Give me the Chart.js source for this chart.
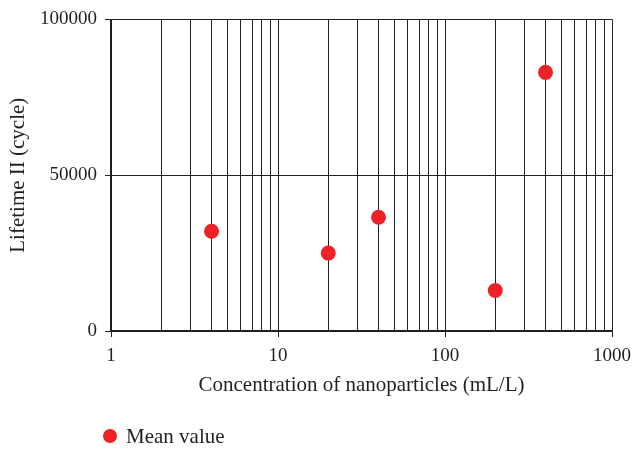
<!DOCTYPE html>
<html>
<head>
<meta charset="utf-8">
<script src="https://cdn.jsdelivr.net/npm/chart.js@4"></script>
<style>
  html, body { margin: 0; padding: 0; background: #fff; }
  #wrap { width: 634px; height: 449px; position: relative; }
</style>
</head>
<body>
<div id="wrap"><canvas id="myChart"></canvas></div>
<script>
// concentration (mL/L) and mean lifetime II (cycles)
const concentration = [4, 20, 40, 200, 400];
const meanLifetime = [32000, 25000, 36500, 13000, 83000];
const xDecades = [1, 10, 100, 1000];
const yTicks = [0, 50000, 100000];

const ink = "#231f20";
const red = "#ec2227";
const serif = "'Liberation Serif', 'DejaVu Serif', serif";

// every 1..9 step inside each decade gets a grid line
function logGridValues() {
  var vals = [];
  for (var d = 0; d < xDecades.length - 1; d++) {
    for (var k = 1; k < 10; k++) vals.push(xDecades[d] * k);
  }
  vals.push(xDecades[xDecades.length - 1]);
  return vals;
}

// simple legend under the axis title
const bottomLegend = {
  id: "bottomLegend",
  afterDraw(chart) {
    const ctx = chart.ctx;
    const ds = chart.data.datasets[0];
    ctx.save();
    ctx.fillStyle = ds.backgroundColor;
    ctx.beginPath();
    ctx.arc(110, 436, 7, 0, Math.PI * 2);
    ctx.fill();
    ctx.fillStyle = ink;
    ctx.font = "21px " + serif;
    ctx.textBaseline = "middle";
    ctx.fillText(ds.label, 126, 437);
    ctx.restore();
  },
};

var data = {
  datasets: [
    {
      label: "Mean value",
      data: concentration.map((x, i) => ({ x: x, y: meanLifetime[i] })),
      backgroundColor: red,
      borderWidth: 0,
      pointRadius: 7.5,
      pointHoverRadius: 7.5,
      showLine: false,
    },
  ],
};

var ctx = document.getElementById("myChart").getContext("2d");
var chart = new Chart(ctx, {
  type: "scatter",
  data: data,
  plugins: [bottomLegend],
  options: {
    animation: { duration: 0 },
    responsive: true,
    maintainAspectRatio: false,
    layout: { padding: { top: 17, right: 22, bottom: 48, left: 0 } },
    plugins: {
      legend: { display: false },
      tooltip: { enabled: false },
    },
    scales: {
      x: {
        type: "logarithmic",
        min: 1,
        max: 1000,
        afterBuildTicks: (scale) => {
          scale.ticks = logGridValues().map((v) => ({ value: v }));
        },
        afterFit: (scale) => {
          scale.height = 70;
          scale.paddingLeft = 0;
          scale.paddingRight = 0;
        },
        border: { color: ink, width: 1.5 },
        grid: {
          color: ink,
          lineWidth: 1,
          tickLength: 6,
          tickColor: (c) => (c.tick && xDecades.includes(c.tick.value) ? ink : "rgba(0,0,0,0)"),
        },
        ticks: {
          autoSkip: false,
          maxRotation: 0,
          padding: 8,
          color: ink,
          font: { family: serif, size: 19 },
          callback: (v) => (xDecades.includes(v) ? String(v) : ""),
        },
        title: {
          display: true,
          text: "Concentration of nanoparticles (mL/L)",
          color: ink,
          font: { family: serif, size: 21 },
          padding: { top: 0, bottom: 3 },
        },
      },
      y: {
        min: 0,
        max: 100000,
        afterBuildTicks: (scale) => {
          scale.ticks = yTicks.map((v) => ({ value: v }));
        },
        afterFit: (scale) => {
          scale.width = 111;
        },
        border: { color: ink, width: 1.5 },
        grid: { color: ink, lineWidth: 1, tickLength: 6 },
        ticks: {
          padding: 8,
          color: ink,
          font: { family: serif, size: 19 },
          callback: (v) => String(v),
        },
        title: {
          display: true,
          text: "Lifetime II (cycle)",
          color: ink,
          font: { family: serif, size: 21 },
          padding: { top: 6, bottom: 0 },
        },
      },
    },
  },
});
</script>
</body>
</html>
